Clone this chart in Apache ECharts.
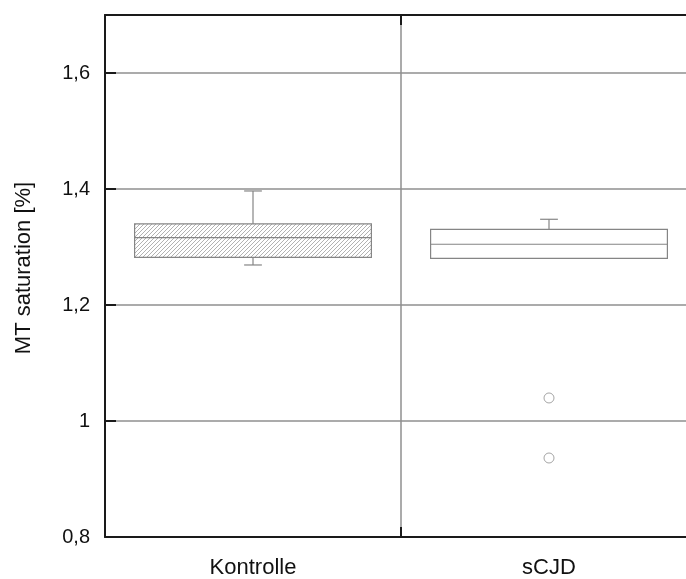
<!DOCTYPE html>
<html>
<head>
<meta charset="utf-8">
<script src="https://cdn.jsdelivr.net/npm/echarts@6/dist/echarts.min.js"></script>
<style>
  html, body { margin: 0; padding: 0; background: #fff; }
  #chart { width: 686px; height: 579px; }
</style>
</head>
<body>
<div id="chart"></div>
<script>
// Groups and box-plot statistics (MT saturation, %)
const categories = ['Kontrolle', 'sCJD'];
const lowerWhisker = [1.269, 1.2805];
const q1 = [1.2822, 1.2805];
const median = [1.316, 1.3047];
const q3 = [1.3397, 1.3305];
const upperWhisker = [1.3966, 1.3478];
// Outliers as [group index, value]
const outliers = [[1, 1.0397], [1, 0.9362]];
// Which groups get the hatched fill
const hatched = [true, false];

const AXIS = '#1a1a1a';
const GRID = '#8f8f8f';
const BOX = '#858585';
const FONT = '"Liberation Sans", Arial, sans-serif';

// Diagonal hatch used to fill the control box
function makeHatch() {
  const c = document.createElement('canvas');
  c.width = 4; c.height = 4;
  const ctx = c.getContext('2d');
  ctx.fillStyle = '#ffffff';
  ctx.fillRect(0, 0, 4, 4);
  ctx.strokeStyle = '#b2b2b2';
  ctx.lineWidth = 1;
  [[-4, 8, 8, -4], [-2, 2, 2, -2], [2, 6, 6, 2]].forEach(([x1, y1, x2, y2]) => {
    ctx.beginPath(); ctx.moveTo(x1, y1); ctx.lineTo(x2, y2); ctx.stroke();
  });
  return c;
}
const hatch = makeHatch();

const boxData = categories.map((c, i) =>
  [i, lowerWhisker[i], q1[i], median[i], q3[i], upperWhisker[i]]);

function renderBox(params, api) {
  const i = api.value(0);
  const band = api.size([1, 0])[0];
  const cx = api.coord([i, 0])[0];
  const half = band * 0.4;
  const cap = band * 0.03;
  const yLo = api.coord([i, api.value(1)])[1];
  const yQ1 = api.coord([i, api.value(2)])[1];
  const yMed = api.coord([i, api.value(3)])[1];
  const yQ3 = api.coord([i, api.value(4)])[1];
  const yHi = api.coord([i, api.value(5)])[1];
  const lineStyle = { stroke: BOX, lineWidth: 1.2, fill: null };
  const children = [
    {
      type: 'rect',
      shape: { x: cx - half, y: yQ3, width: half * 2, height: yQ1 - yQ3 },
      style: {
        fill: hatched[i] ? { image: hatch, repeat: 'repeat' } : '#ffffff',
        stroke: BOX, lineWidth: 1.2
      }
    },
    { type: 'line', shape: { x1: cx - half, y1: yMed, x2: cx + half, y2: yMed }, style: lineStyle }
  ];
  if (Math.abs(yHi - yQ3) > 0.5) {
    children.push(
      { type: 'line', shape: { x1: cx, y1: yQ3, x2: cx, y2: yHi }, style: lineStyle },
      { type: 'line', shape: { x1: cx - cap, y1: yHi, x2: cx + cap, y2: yHi }, style: lineStyle }
    );
  }
  if (Math.abs(yLo - yQ1) > 0.5) {
    children.push(
      { type: 'line', shape: { x1: cx, y1: yQ1, x2: cx, y2: yLo }, style: lineStyle },
      { type: 'line', shape: { x1: cx - cap, y1: yLo, x2: cx + cap, y2: yLo }, style: lineStyle }
    );
  }
  return { type: 'group', children };
}

const fmt = v => String(Number(v.toFixed(1))).replace('.', ',');

const chart = echarts.init(document.getElementById('chart'), null, { renderer: 'canvas' });
chart.setOption({
  animation: false,
  backgroundColor: '#ffffff',
  grid: { left: 105, top: 15, width: 592, height: 522, outerBoundsMode: 'none', containLabel: false },
  xAxis: [
    {
      type: 'category',
      data: categories,
      position: 'bottom',
      axisLine: { lineStyle: { color: AXIS, width: 2 } },
      axisTick: { show: true, inside: true, length: 10, lineStyle: { color: AXIS, width: 2 } },
      axisLabel: { color: '#111', fontFamily: FONT, fontSize: 22, margin: 20 },
      splitLine: { show: true, lineStyle: { color: GRID, width: 1.5 } }
    },
    {
      type: 'category',
      data: categories,
      position: 'top',
      axisLine: { lineStyle: { color: AXIS, width: 2 } },
      axisTick: { show: true, inside: true, length: 10, lineStyle: { color: AXIS, width: 2 } },
      axisLabel: { show: false },
      splitLine: { show: false }
    }
  ],
  yAxis: {
    type: 'value',
    min: 0.8,
    max: 1.7,
    interval: 0.2,
    name: 'MT saturation [%]',
    nameLocation: 'middle',
    nameGap: 70,
    nameTextStyle: { color: '#111', fontFamily: FONT, fontSize: 22, padding: [0, 0, 0, 16] },
    axisLine: { show: true, lineStyle: { color: AXIS, width: 2 } },
    axisTick: { show: true, inside: true, length: 11, lineStyle: { color: AXIS, width: 2 } },
    axisLabel: {
      color: '#111', fontFamily: FONT, fontSize: 20, margin: 15,
      showMaxLabel: false, formatter: fmt
    },
    splitLine: { show: true, lineStyle: { color: GRID, width: 1.5 } }
  },
  series: [
    {
      type: 'custom',
      renderItem: renderBox,
      data: boxData,
      encode: { x: 0, y: [1, 2, 3, 4, 5] },
      z: 3
    },
    {
      type: 'scatter',
      data: outliers,
      symbol: 'circle',
      symbolSize: 10,
      itemStyle: { color: '#ffffff', borderColor: '#8f8f8f', borderWidth: 1 },
      z: 4
    }
  ]
});
</script>
</body>
</html>
